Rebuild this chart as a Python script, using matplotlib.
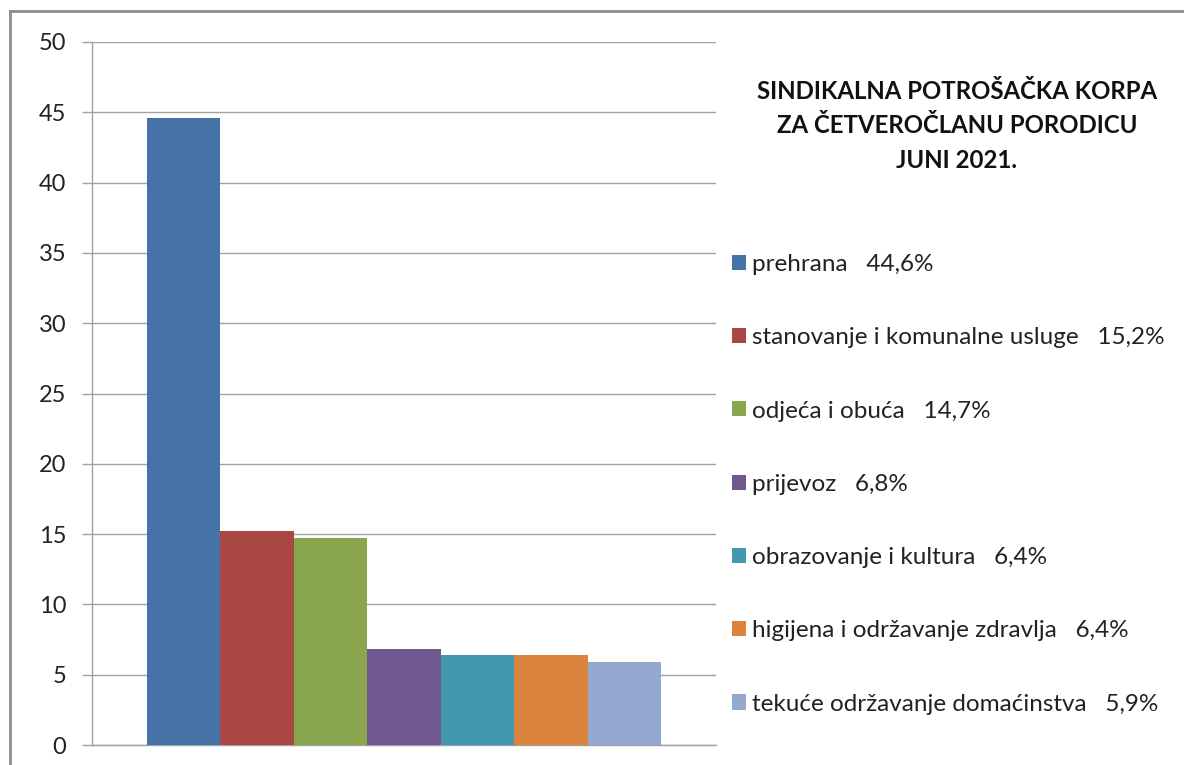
import matplotlib.pyplot as plt
from matplotlib.lines import Line2D
from matplotlib.patches import Patch

plt.rcParams['font.family'] = ['Lato', 'DejaVu Sans']

categories = ['prehrana', 'stanovanje i komunalne usluge', 'odjeća i obuća',
              'prijevoz', 'obrazovanje i kultura', 'higijena i održavanje zdravlja',
              'tekuće održavanje domaćinstva']
values = [44.6, 15.2, 14.7, 6.8, 6.4, 6.4, 5.9]
colors = ['#4572A7', '#AA4643', '#89A54E', '#71588F', '#4198AF', '#DB843D', '#93A9CF']
yticks = [0, 5, 10, 15, 20, 25, 30, 35, 40, 45, 50]
title = 'SINDIKALNA POTROŠAČKA KORPA\nZA ČETVEROČLANU PORODICU\nJUNI 2021.'

W, H = 1184, 765
fig = plt.figure(figsize=(W / 100, H / 100), dpi=100)
ax = fig.add_axes([92 / W, 1 - 745 / H, (716 - 92) / W, (745 - 42) / H])

grey = '#A0A0A0'
for i, (v, c) in enumerate(zip(values, colors)):
    ax.bar(i, v, width=1.0, color=c, zorder=3)

ax.set_xlim(-1.25, 7.25)
ax.set_ylim(0, 50)
ax.set_yticks(yticks)
ax.set_xticks([])
ax.yaxis.grid(True, color=grey, linewidth=1.0, zorder=0)
ax.tick_params(axis='y', length=7.5, width=1.0, color=grey, pad=11,
               labelsize=17, labelcolor='#222222')
for s in ['top', 'right']:
    ax.spines[s].set_visible(False)
for s in ['left', 'bottom']:
    ax.spines[s].set_color(grey)
    ax.spines[s].set_linewidth(1.0)

handles = [Patch(facecolor=c) for c in colors]
labels = [f'{cat}   {str(v).replace(".", ",")}%' for cat, v in zip(categories, values)]
fig.legend(handles, labels, loc='upper left', bbox_to_anchor=(732 / W, 1 - 254 / H),
           frameon=False, fontsize=17.5, labelspacing=2.15, handlelength=0.58,
           handleheight=0.58, handletextpad=0.25, borderaxespad=0, borderpad=0,
           labelcolor='#222222')

fig.text(957 / W, 1 - 80 / H, title, ha='center', va='top', fontsize=17.3,
         fontweight='bold', linespacing=1.6, color='#111111')

# outer frame of the chart area
fig.add_artist(Line2D([10 / W, 10 / W], [0, 1 - 11 / H], color='#8C8C8C', linewidth=2))
fig.add_artist(Line2D([10 / W, 1], [1 - 11 / H, 1 - 11 / H], color='#8C8C8C', linewidth=2))

fig.savefig('out.png', dpi=100)
